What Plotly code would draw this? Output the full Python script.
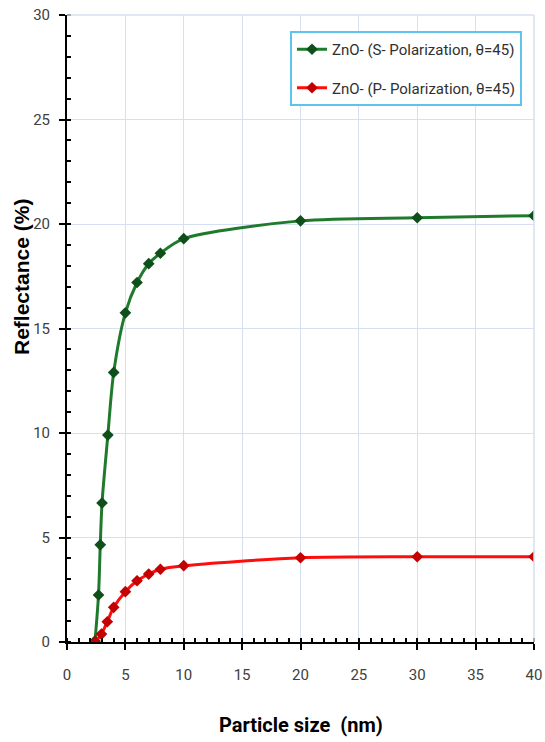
import plotly.graph_objects as go

# Particle size (nm) and reflectance (%) for ZnO at 45 degrees incidence
size_s = [2.4, 2.7, 2.85, 3.0, 3.5, 4.0, 5, 6, 7, 8, 10, 20, 30, 40]
refl_s = [0.05, 2.25, 4.65, 6.65, 9.9, 12.9, 15.75, 17.2, 18.1, 18.6, 19.3, 20.15, 20.3, 20.4]

size_p = [2.4, 2.95, 3.45, 4.0, 5, 6, 7, 8, 10, 20, 30, 40]
refl_p = [0.0, 0.38, 0.97, 1.66, 2.41, 2.93, 3.25, 3.48, 3.65, 4.03, 4.08, 4.08]

name_s = "ZnO- (S- Polarization, θ=45)"
name_p = "ZnO- (P- Polarization, θ=45)"

x_ticks = [0, 5, 10, 15, 20, 25, 30, 35, 40]
y_ticks = [0, 5, 10, 15, 20, 25, 30]

W, H = 545, 742
L, R, T, B = 67, 11, 15, 100
PW, PH = W - L - R, H - T - B

font_main = "Roboto, Liberation Sans, sans-serif"
tick_color = "#404040"
grid_color = "#d6e0f2"

fig = go.Figure()
fig.add_trace(go.Scatter(
    x=size_s, y=refl_s, name=name_s, mode="lines+markers",
    line=dict(color="#1f7a2c", width=3, shape="spline", smoothing=0.8),
    marker=dict(symbol="diamond", size=9, color="#0f4f1a"),
    legendgroup="s",
))
fig.add_trace(go.Scatter(
    x=size_p, y=refl_p, name=name_p, mode="lines+markers",
    line=dict(color="#ff0d0d", width=3, shape="spline", smoothing=0.8),
    marker=dict(symbol="diamond", size=9, color="#c40000"),
    legendgroup="p",
))

fig.update_layout(
    width=W, height=H,
    margin=dict(l=L, r=R, t=T, b=B, autoexpand=False),
    paper_bgcolor="white", plot_bgcolor="white",
    showlegend=True,
    legend=dict(
        x=(290 - L) / PW, y=(H - B - 31) / PH, xanchor="left", yanchor="top",
        bordercolor="#5ec4ee", borderwidth=2, bgcolor="white",
        font=dict(family=font_main, size=15, color="#303030"),
        traceorder="grouped", tracegroupgap=16,
        itemwidth=30,
    ),
    xaxis=dict(
        range=[0, 40], tickvals=x_ticks, showgrid=True, gridcolor=grid_color, gridwidth=1,
        showline=True, linecolor="black", linewidth=2, zeroline=False,
        ticks="outside", ticklen=6, tickwidth=2, tickcolor="black",
        minor=dict(dtick=1, ticks="inside", ticklen=4, tickwidth=1.5, tickcolor="black", showgrid=False),
        tickfont=dict(family=font_main, size=15, color=tick_color),
        ticklabelstandoff=12, automargin=False,
    ),
    yaxis=dict(
        range=[0, 30], tickvals=y_ticks, showgrid=True, gridcolor=grid_color, gridwidth=1,
        showline=True, linecolor="black", linewidth=2, zeroline=False,
        ticks="outside", ticklen=6, tickwidth=2, tickcolor="black",
        minor=dict(dtick=1, ticks="inside", ticklen=4, tickwidth=1.5, tickcolor="black", showgrid=False),
        tickfont=dict(family=font_main, size=15, color=tick_color),
        ticklabelstandoff=6, automargin=False,
    ),
)

# Top and right borders drawn as light grid lines
fig.add_shape(type="line", xref="paper", yref="paper", x0=0, x1=1, y0=1, y1=1,
              line=dict(color=grid_color, width=1.5))
fig.add_shape(type="line", xref="paper", yref="paper", x0=1, x1=1, y0=0, y1=1,
              line=dict(color=grid_color, width=1.5))

fig.add_annotation(
    text="<b>Reflectance (%)</b>", xref="paper", yref="paper",
    x=-(L - 21) / PW, y=(H - B - 277) / PH, xanchor="center", yanchor="middle",
    textangle=-90, showarrow=False,
    font=dict(family="Liberation Sans, Arial, sans-serif", size=21, color="black"),
)
fig.add_annotation(
    text="<b>Particle size  (nm)</b>", xref="paper", yref="paper",
    x=0.5, y=-(725 - (H - B)) / PH, xanchor="center", yanchor="middle",
    showarrow=False,
    font=dict(family=font_main, size=20, color="black"),
)

fig.write_html("out.html")
